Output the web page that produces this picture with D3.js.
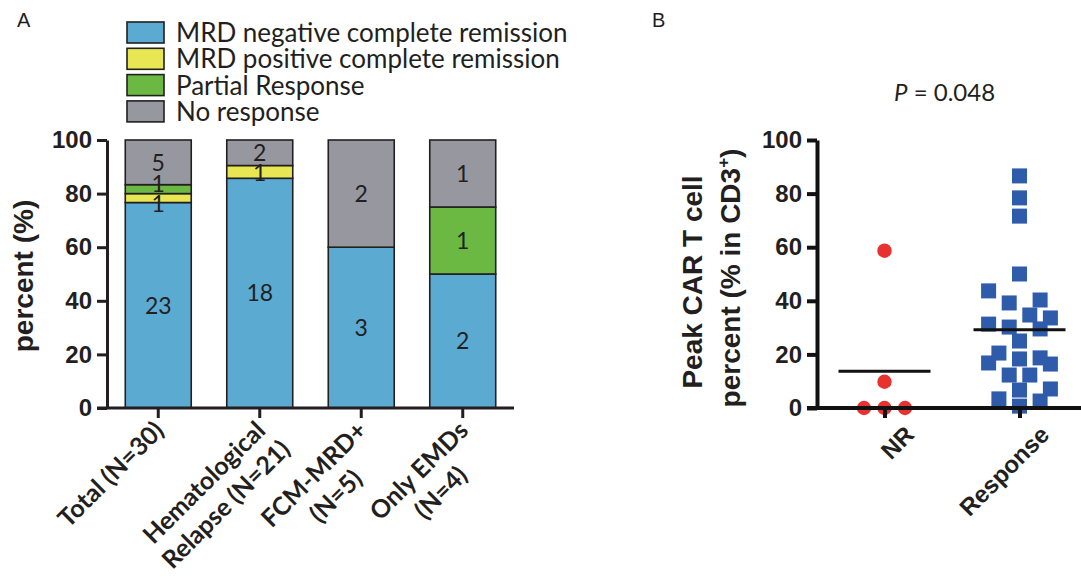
<!DOCTYPE html>
<html>
<head>
<meta charset="utf-8">
<script src="https://cdn.jsdelivr.net/npm/d3@7"></script>
<style>
  body { margin: 0; background: #fff; }
  svg { display: block; }
</style>
</head>
<body>
<div id="chart"></div>
<script>
// panel A data
const groups = [["Total (N=30)"], ["Hematological", "Relapse (N=21)"], ["FCM-MRD+", "(N=5)"], ["Only EMDs", "(N=4)"]];
const responseTypes = ["MRD negative complete remission", "MRD positive complete remission", "Partial Response", "No response"];
const mrdNegative = [23, 18, 3, 2];
const mrdPositive = [1, 1, 0, 0];
const partialResponse = [1, 0, 0, 1];
const noResponse = [5, 2, 2, 1];
const percentTicks = [0, 20, 40, 60, 80, 100];

// panel B data
const peakGroups = ["NR", "Response"];
const peakNR = [58.7, 9.8, 0, 0, 0];
const peakResponse = [86.6, 78.4, 71.6, 50.0, 43.7, 40.3, 39.2, 34.7, 33.6, 31.3, 30.2, 29.5, 25.0,
  20.5, 18.7, 18.3, 16.8, 16.4, 12.3, 12.3, 7.1, 6.7, 3.4, 2.6, 0.7];
const peakTicks = [0, 20, 40, 60, 80, 100];
const pValue = "0.048";

const W = 1081, H = 577;
const ink = "#231F20";
const colors = ["#5BAAD2", "#E9E654", "#6BB843", "#97979F"];
const bold = "'Liberation Sans', Arial, sans-serif";
const soft = "Lato, 'Open Sans', sans-serif";

const svg = d3.select("#chart").append("svg")
  .attr("width", W)
  .attr("height", H);

// ---------- Panel A ----------
const y = d3.scaleLinear().domain([0, 1]).range([408, 140]);
const x = d3.scaleBand()
  .domain(groups.map(g => g.join(" ")))
  .range([107, 514])
  .paddingInner(0.35)
  .paddingOuter(0.18);

const table = groups.map((g, i) => ({
  group: g.join(" "),
  [responseTypes[0]]: mrdNegative[i],
  [responseTypes[1]]: mrdPositive[i],
  [responseTypes[2]]: partialResponse[i],
  [responseTypes[3]]: noResponse[i]
}));

const series = d3.stack()
  .keys(responseTypes)
  .offset(d3.stackOffsetExpand)(table);

const a = svg.append("g");

a.selectAll("g.layer")
  .data(series)
  .join("g")
  .attr("class", "layer")
  .attr("fill", (d, i) => colors[i])
  .selectAll("rect")
  .data(d => d.filter(s => s[1] - s[0] > 0))
  .join("rect")
  .attr("x", d => x(d.data.group))
  .attr("y", d => y(d[1]))
  .attr("width", x.bandwidth())
  .attr("height", d => y(d[0]) - y(d[1]))
  .attr("stroke", ink)
  .attr("stroke-width", 1.6);

// counts inside the segments, nudged apart when segments are thin
const counts = [];
series.forEach(layer => {
  layer.forEach(s => {
    if (s[1] - s[0] > 0) {
      counts.push({ group: s.data.group, n: s.data[layer.key], cy: y((s[0] + s[1]) / 2) });
    }
  });
});
d3.groups(counts, d => d.group).forEach(([, labs]) => {
  labs.sort((p, q) => q.cy - p.cy);
  for (let it = 0; it < 10; it++) {
    for (let i = 1; i < labs.length; i++) {
      const gap = labs[i - 1].cy - labs[i].cy;
      if (gap < 20) {
        const push = (20 - gap) / 2;
        labs[i - 1].cy += push;
        labs[i].cy -= push;
      }
    }
  }
});
a.append("g").selectAll("text")
  .data(counts)
  .join("text")
  .attr("x", d => x(d.group) + x.bandwidth() / 2)
  .attr("y", d => d.cy)
  .attr("dy", "0.36em")
  .attr("text-anchor", "middle")
  .attr("font-family", soft)
  .attr("font-size", 23)
  .attr("fill", ink)
  .text(d => d.n);

const yAxisA = a.append("g")
  .attr("transform", "translate(107,0)")
  .call(d3.axisLeft(y)
    .tickValues(percentTicks.map(d => d / 100))
    .tickFormat(d => Math.round(d * 100))
    .tickSize(10)
    .tickSizeOuter(0)
    .tickPadding(5));

const xAxisA = a.append("g")
  .attr("transform", "translate(0,408)")
  .call(d3.axisBottom(x).tickSize(10).tickSizeOuter(0).tickFormat(""));
xAxisA.select(".domain").remove();
xAxisA.append("line")
  .attr("x1", 107 - 10).attr("x2", x.range()[1])
  .attr("stroke", ink).attr("stroke-width", 3);

[yAxisA, xAxisA].forEach(g => {
  g.selectAll(".domain, .tick line").attr("stroke", ink).attr("stroke-width", 3);
  g.selectAll(".tick text")
    .attr("font-family", bold)
    .attr("font-weight", "bold")
    .attr("font-size", 24)
    .attr("fill", ink);
});

// rotated group labels
groups.forEach(g => {
  const key = g.join(" ");
  const lab = a.append("g")
    .attr("transform", `translate(${x(key) + x.bandwidth() / 2},408) rotate(-45)`);
  const first = lab.append("text")
    .attr("x", -12)
    .attr("y", 22)
    .attr("text-anchor", "end")
    .attr("font-family", soft)
    .attr("font-weight", "bold")
    .attr("font-size", 25)
    .attr("fill", ink)
    .text(g[0]);
  if (g.length > 1) {
    const len = first.node().getComputedTextLength();
    lab.append("text")
      .attr("x", -12 - len / 2)
      .attr("y", 22 + 31)
      .attr("text-anchor", "middle")
      .attr("font-family", soft)
      .attr("font-weight", "bold")
      .attr("font-size", 25)
      .attr("fill", ink)
      .text(g[1]);
  }
});

a.append("text")
  .attr("transform", "translate(33,276) rotate(-90)")
  .attr("text-anchor", "middle")
  .attr("font-family", bold)
  .attr("font-weight", "bold")
  .attr("font-size", 28)
  .attr("fill", ink)
  .text("percent (%)");

// legend
const legend = a.append("g").attr("transform", "translate(127,22)");
const item = legend.selectAll("g")
  .data(responseTypes)
  .join("g")
  .attr("transform", (d, i) => `translate(0,${i * 26.3})`);
item.append("rect")
  .attr("width", 37).attr("height", 21)
  .attr("fill", (d, i) => colors[i])
  .attr("stroke", ink).attr("stroke-width", 1.6);
item.append("text")
  .attr("x", 49).attr("y", 20)
  .attr("font-family", soft)
  .attr("font-size", 26)
  .attr("fill", ink)
  .text(d => d);

svg.append("text")
  .attr("x", 17).attr("y", 27)
  .attr("font-family", bold)
  .attr("font-size", 20)
  .attr("fill", ink)
  .text("A");

// ---------- Panel B ----------
const yB = d3.scaleLinear().domain([0, 100]).range([408, 140]);
const xB = d3.scalePoint().domain(peakGroups).range([817, 1087]).padding(0.5);

const b = svg.append("g");

// simple beeswarm: nearest free slot either side of the column centre,
// limited to a few slots; if every slot is taken use the least crowded one
function swarm(values, cx, step, minDist, maxSlot) {
  const placed = [];
  values.slice().sort((p, q) => p - q).forEach(v => {
    const cy = yB(v);
    let best = null, bestD = -1;
    for (let k = 0; k <= maxSlot * 2; k++) {
      const off = k === 0 ? 0 : (k % 2 ? 1 : -1) * Math.ceil(k / 2) * step;
      const px = cx + off;
      const dmin = placed.length ? d3.min(placed, p => Math.hypot(p.x - px, p.y - cy)) : Infinity;
      if (dmin >= minDist) { best = px; break; }
      if (dmin > bestD) { bestD = dmin; best = px; }
    }
    placed.push({ v, x: best, y: cy });
  });
  return placed;
}

const nrPts = swarm(peakNR, xB("NR"), 20.5, 16, 2);
const resPts = swarm(peakResponse, xB("Response"), 10.3, 17, 3);

b.selectAll("circle")
  .data(nrPts)
  .join("circle")
  .attr("cx", d => d.x)
  .attr("cy", d => d.y)
  .attr("r", 7.2)
  .attr("fill", "#E8322F");

b.selectAll("rect.sq")
  .data(resPts)
  .join("rect")
  .attr("class", "sq")
  .attr("x", d => d.x - 7.5)
  .attr("y", d => d.y - 7.5)
  .attr("width", 15)
  .attr("height", 15)
  .attr("fill", "#2E5BAA");

// group means
const means = [
  { g: "NR", m: d3.mean(peakNR) },
  { g: "Response", m: d3.mean(peakResponse) }
];
b.selectAll("line.mean")
  .data(means)
  .join("line")
  .attr("class", "mean")
  .attr("x1", d => xB(d.g) - 46)
  .attr("x2", d => xB(d.g) + 46)
  .attr("y1", d => yB(d.m))
  .attr("y2", d => yB(d.m))
  .attr("stroke", "#111")
  .attr("stroke-width", 3);

const yAxisB = b.append("g")
  .attr("transform", "translate(817,0)")
  .call(d3.axisLeft(yB).tickValues(peakTicks).tickSize(10).tickSizeOuter(0).tickPadding(5));

const xAxisB = b.append("g")
  .attr("transform", "translate(0,408)")
  .call(d3.axisBottom(xB).tickSize(10).tickSizeOuter(0).tickFormat(""));
xAxisB.select(".domain").remove();
xAxisB.append("line")
  .attr("x1", 817 - 10).attr("x2", W)
  .attr("stroke", "#111").attr("stroke-width", 4);

[yAxisB, xAxisB].forEach(g => {
  g.selectAll(".domain, .tick line").attr("stroke", "#111").attr("stroke-width", 4);
  g.selectAll(".tick text")
    .attr("font-family", bold)
    .attr("font-weight", "bold")
    .attr("font-size", 24)
    .attr("fill", ink);
});

peakGroups.forEach(g => {
  b.append("text")
    .attr("transform", `translate(${xB(g)},408) rotate(-45)`)
    .attr("x", 2)
    .attr("y", 42)
    .attr("text-anchor", "end")
    .attr("font-family", bold)
    .attr("font-weight", "bold")
    .attr("font-size", 24)
    .attr("fill", ink)
    .text(g);
});

b.append("text")
  .attr("transform", "translate(702,282) rotate(-90)")
  .attr("text-anchor", "middle")
  .attr("font-family", bold)
  .attr("font-weight", "bold")
  .attr("font-size", 28)
  .attr("fill", ink)
  .text("Peak CAR T cell");

const t2 = b.append("text")
  .attr("transform", "translate(740,278) rotate(-90)")
  .attr("text-anchor", "middle")
  .attr("font-family", bold)
  .attr("font-weight", "bold")
  .attr("font-size", 28)
  .attr("fill", ink);
t2.append("tspan").text("percent (% in CD3");
t2.append("tspan").attr("font-size", 17).attr("dy", -11).text("+");
t2.append("tspan").attr("dy", 11).text(")");

const pt = b.append("text")
  .attr("x", 894).attr("y", 101)
  .attr("font-family", soft)
  .attr("font-size", 24)
  .attr("fill", ink);
pt.append("tspan").attr("font-style", "italic").text("P");
pt.append("tspan").text(" = " + pValue);

svg.append("text")
  .attr("x", 652).attr("y", 27)
  .attr("font-family", bold)
  .attr("font-size", 20)
  .attr("fill", ink)
  .text("B");
</script>
</body>
</html>
